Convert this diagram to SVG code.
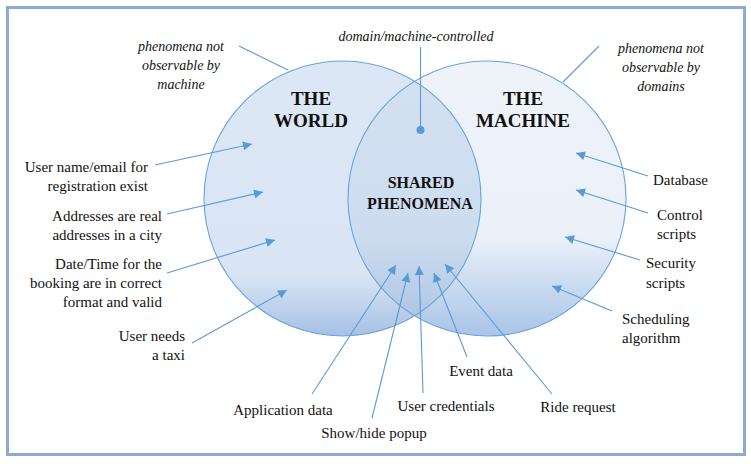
<svg xmlns="http://www.w3.org/2000/svg" width="751" height="464" viewBox="0 0 751 464">
  <style>
    text { fill: #111; }
    .lbl { font-size: 15px; }
    .it { font-size: 14px; font-style: italic; }
    .big { font-size: 19px; font-weight: bold; }
    .mid { font-size: 16px; font-weight: bold; }
    .edge { stroke: #5b9bd5; stroke-width: 1.1; fill: none; }
    .arr { marker-end: url(#head); }
    .ring { fill: none; stroke: #6aa2dc; stroke-width: 1.1; }
  </style>
  <defs>
    <marker id="head" viewBox="0 0 10 10" refX="10" refY="5" markerWidth="10" markerHeight="9" markerUnits="userSpaceOnUse" orient="auto">
      <path d="M0,0 L10,5 L0,10 z" fill="#5b9bd5"/>
    </marker>
    <linearGradient id="gWorld" gradientUnits="userSpaceOnUse" x1="0" y1="61" x2="0" y2="336">
      <stop offset="0" stop-color="#dbe7f5"/>
      <stop offset="0.78" stop-color="#d9e5f4"/>
      <stop offset="1" stop-color="#a5c1e4"/>
    </linearGradient>
    <linearGradient id="gMachine" gradientUnits="userSpaceOnUse" x1="0" y1="61" x2="0" y2="336">
      <stop offset="0" stop-color="#eef3fa"/>
      <stop offset="0.64" stop-color="#ebf1f9"/>
      <stop offset="1" stop-color="#a8c4e7"/>
    </linearGradient>
    <linearGradient id="gShared" gradientUnits="userSpaceOnUse" x1="0" y1="61" x2="0" y2="336">
      <stop offset="0" stop-color="#d3e1f2"/>
      <stop offset="0.64" stop-color="#cddcef"/>
      <stop offset="0.9" stop-color="#b2c9e7"/>
      <stop offset="1" stop-color="#a3bfe3"/>
    </linearGradient>
    <clipPath id="clipMachine">
      <ellipse cx="487" cy="198.5" rx="139" ry="137.5"/>
    </clipPath>
  </defs>

  <!-- outer frame -->
  <rect x="7.5" y="7.5" width="737" height="447" fill="#ffffff" stroke="#8eaad2" stroke-width="3"/>

  <!-- the two sets and their overlap -->
  <g id="world">
    <ellipse cx="342.5" cy="198.5" rx="138.5" ry="137.5" fill="url(#gWorld)"/>
  </g>
  <g id="machine">
    <ellipse cx="487" cy="198.5" rx="139" ry="137.5" fill="url(#gMachine)"/>
  </g>
  <g id="shared">
    <ellipse cx="342.5" cy="198.5" rx="138.5" ry="137.5" fill="url(#gShared)" clip-path="url(#clipMachine)"/>
  </g>
  <g id="outlines">
    <ellipse class="ring" cx="342.5" cy="198.5" rx="138.5" ry="137.5"/>
    <ellipse class="ring" cx="487" cy="198.5" rx="139" ry="137.5"/>
  </g>

  <!-- connectors -->
  <g id="connectors">
    <line class="edge" x1="239" y1="46" x2="288" y2="70"/>
    <line class="edge" x1="599" y1="46" x2="563" y2="82"/>
    <line class="edge" x1="420.5" y1="47" x2="420.5" y2="130"/>
    <circle cx="420.5" cy="130" r="4" fill="#5b9bd5"/>

    <line class="edge arr" x1="155" y1="165" x2="252" y2="144"/>
    <line class="edge arr" x1="167" y1="214" x2="263" y2="192"/>
    <line class="edge arr" x1="167" y1="273" x2="275" y2="240"/>
    <line class="edge arr" x1="192" y1="343" x2="287" y2="290"/>

    <line class="edge arr" x1="648" y1="176" x2="576" y2="153"/>
    <line class="edge arr" x1="648" y1="213" x2="576" y2="190"/>
    <line class="edge arr" x1="640" y1="260" x2="565" y2="237"/>
    <line class="edge arr" x1="612" y1="311" x2="552" y2="286"/>

    <line class="edge arr" x1="312" y1="394" x2="396" y2="265"/>
    <line class="edge arr" x1="372" y1="418" x2="408" y2="273"/>
    <line class="edge arr" x1="423" y1="393" x2="419" y2="266"/>
    <line class="edge arr" x1="467" y1="357" x2="434" y2="273"/>
    <line class="edge arr" x1="552" y1="394" x2="445" y2="264"/>
  </g>

  <g font-family="Liberation Serif, Times New Roman, serif">
  <!-- set titles -->
  <g id="world-title">
    <text class="big" x="311" y="104.5" text-anchor="middle">THE</text>
    <text class="big" x="311" y="127" text-anchor="middle">WORLD</text>
  </g>
  <g id="machine-title">
    <text class="big" x="523" y="104.5" text-anchor="middle">THE</text>
    <text class="big" x="523" y="127" text-anchor="middle">MACHINE</text>
  </g>
  <g id="shared-title">
    <text class="mid" x="421" y="188" text-anchor="middle">SHARED</text>
    <text class="mid" x="420" y="209" text-anchor="middle">PHENOMENA</text>
  </g>

  <!-- annotations -->
  <g id="note-controlled">
    <text class="it" x="416" y="41" text-anchor="middle">domain/machine-controlled</text>
  </g>
  <g id="note-world">
    <text class="it" x="181" y="51" text-anchor="middle">phenomena not</text>
    <text class="it" x="181" y="70" text-anchor="middle">observable by</text>
    <text class="it" x="181" y="89" text-anchor="middle">machine</text>
  </g>
  <g id="note-machine">
    <text class="it" x="661" y="53" text-anchor="middle">phenomena not</text>
    <text class="it" x="661" y="72" text-anchor="middle">observable by</text>
    <text class="it" x="661" y="91" text-anchor="middle">domains</text>
  </g>

  <!-- world phenomena -->
  <g id="user-name" text-anchor="end">
    <text class="lbl" x="148" y="172">User name/email for</text>
    <text class="lbl" x="148" y="191">registration exist</text>
  </g>
  <g id="addresses" text-anchor="end">
    <text class="lbl" x="162" y="221">Addresses are real</text>
    <text class="lbl" x="162" y="240">addresses in a city</text>
  </g>
  <g id="date-time" text-anchor="end">
    <text class="lbl" x="162" y="269">Date/Time for the</text>
    <text class="lbl" x="162" y="288">booking are in correct</text>
    <text class="lbl" x="162" y="307">format and valid</text>
  </g>
  <g id="user-needs" text-anchor="end">
    <text class="lbl" x="185" y="341">User needs</text>
    <text class="lbl" x="185" y="360">a taxi</text>
  </g>

  <!-- machine phenomena -->
  <g id="database">
    <text class="lbl" x="653" y="185">Database</text>
  </g>
  <g id="control-scripts">
    <text class="lbl" x="657" y="220">Control</text>
    <text class="lbl" x="657" y="239">scripts</text>
  </g>
  <g id="security-scripts">
    <text class="lbl" x="646" y="268">Security</text>
    <text class="lbl" x="646" y="288">scripts</text>
  </g>
  <g id="scheduling">
    <text class="lbl" x="622" y="324">Scheduling</text>
    <text class="lbl" x="622" y="343">algorithm</text>
  </g>

  <!-- shared phenomena -->
  <g id="application-data">
    <text class="lbl" x="283" y="415" text-anchor="middle">Application data</text>
  </g>
  <g id="show-hide">
    <text class="lbl" x="374" y="438" text-anchor="middle">Show/hide popup</text>
  </g>
  <g id="user-credentials">
    <text class="lbl" x="446" y="411" text-anchor="middle">User credentials</text>
  </g>
  <g id="event-data">
    <text class="lbl" x="481" y="376" text-anchor="middle">Event data</text>
  </g>
  <g id="ride-request">
    <text class="lbl" x="578" y="412" text-anchor="middle">Ride request</text>
  </g>
  </g>
</svg>
